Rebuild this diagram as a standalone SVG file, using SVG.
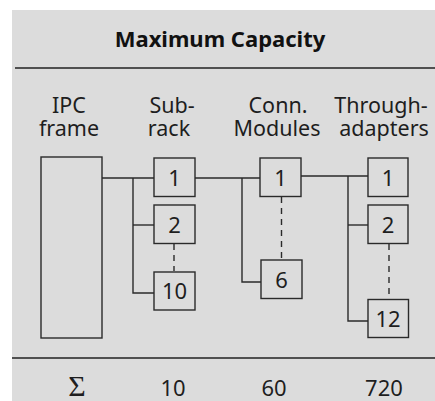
<svg xmlns="http://www.w3.org/2000/svg" width="435" height="401" viewBox="0 0 435 401">
<style>
.t{font-family:"Noto Sans","Open Sans",sans-serif;font-size:22px;fill:#1e1e1e;text-anchor:middle}
.s{font-size:21.5px}
.h{font-weight:bold;fill:#111}
.g{font-family:"Liberation Serif","DejaVu Serif",serif;font-size:30px}
.b{fill:none;stroke:#2a2a2a;stroke-width:1.4}
.c{fill:none;stroke:#2a2a2a;stroke-width:1.4}
.d{fill:none;stroke:#2a2a2a;stroke-width:1.4;stroke-dasharray:6,5}
.r{fill:none;stroke:#222;stroke-width:1.6}
</style>
<rect x="12" y="10" width="423" height="391" fill="#dcdcdc"/>
<text class="t h" x="220" y="47">Maximum Capacity</text>
<line class="r" x1="15" y1="68" x2="435" y2="68"/>
<g id="headers">
<text class="t s" x="69" y="113">IPC</text>
<text class="t s" x="69" y="136">frame</text>
<text class="t s" x="172" y="113">Sub-</text>
<text class="t s" x="169" y="136">rack</text>
<text class="t s" x="278" y="113">Conn.</text>
<text class="t s" x="277" y="136">Modules</text>
<text class="t s" x="381" y="113">Through-</text>
<text class="t s" x="384" y="136">adapters</text>
</g>
<g id="connectors">
<polyline class="c" points="102,178 154,178"/>
<polyline class="c" points="133,178 133,293 154,293"/>
<line class="c" x1="133" y1="225" x2="154" y2="225"/>
<line class="d" x1="174" y1="244" x2="174" y2="271"/>
<line class="c" x1="195" y1="178" x2="260" y2="178"/>
<polyline class="c" points="242,178 242,282 261,282"/>
<line class="d" x1="281.5" y1="197" x2="281.5" y2="260"/>
<line class="c" x1="301" y1="176" x2="368" y2="176"/>
<polyline class="c" points="348,176 348,321 368,321"/>
<line class="c" x1="348" y1="225" x2="368" y2="225"/>
<line class="d" x1="389" y1="244" x2="389" y2="299"/>
</g>
<g id="ipc-frame"><rect class="b" x="41" y="157" width="61" height="181"/></g>
<g id="sub-1"><rect class="b" x="154" y="158" width="41" height="38.5"/><text class="t" x="174.5" y="185.5">1</text></g>
<g id="sub-2"><rect class="b" x="154" y="205" width="41" height="38.5"/><text class="t" x="174.5" y="232.5">2</text></g>
<g id="sub-10"><rect class="b" x="154" y="272" width="41" height="38"/><text class="t" x="174.5" y="299">10</text></g>
<g id="conn-1"><rect class="b" x="260" y="158" width="41" height="38.5"/><text class="t" x="280.5" y="185.5">1</text></g>
<g id="conn-6"><rect class="b" x="261" y="260" width="41" height="38.5"/><text class="t" x="281.5" y="287.5">6</text></g>
<g id="thr-1"><rect class="b" x="368" y="158" width="40" height="38.5"/><text class="t" x="388" y="185.5">1</text></g>
<g id="thr-2"><rect class="b" x="368" y="205" width="40" height="38.5"/><text class="t" x="388" y="232.5">2</text></g>
<g id="thr-12"><rect class="b" x="368" y="299.5" width="40.5" height="38"/><text class="t" x="388" y="326.5">12</text></g>
<line class="r" x1="12" y1="358" x2="435" y2="358"/>
<g id="totals">
<text class="t g" x="77" y="396">Σ</text>
<text class="t" x="173" y="396">10</text>
<text class="t" x="274" y="396">60</text>
<text class="t" x="384" y="396">720</text>
</g>
</svg>
